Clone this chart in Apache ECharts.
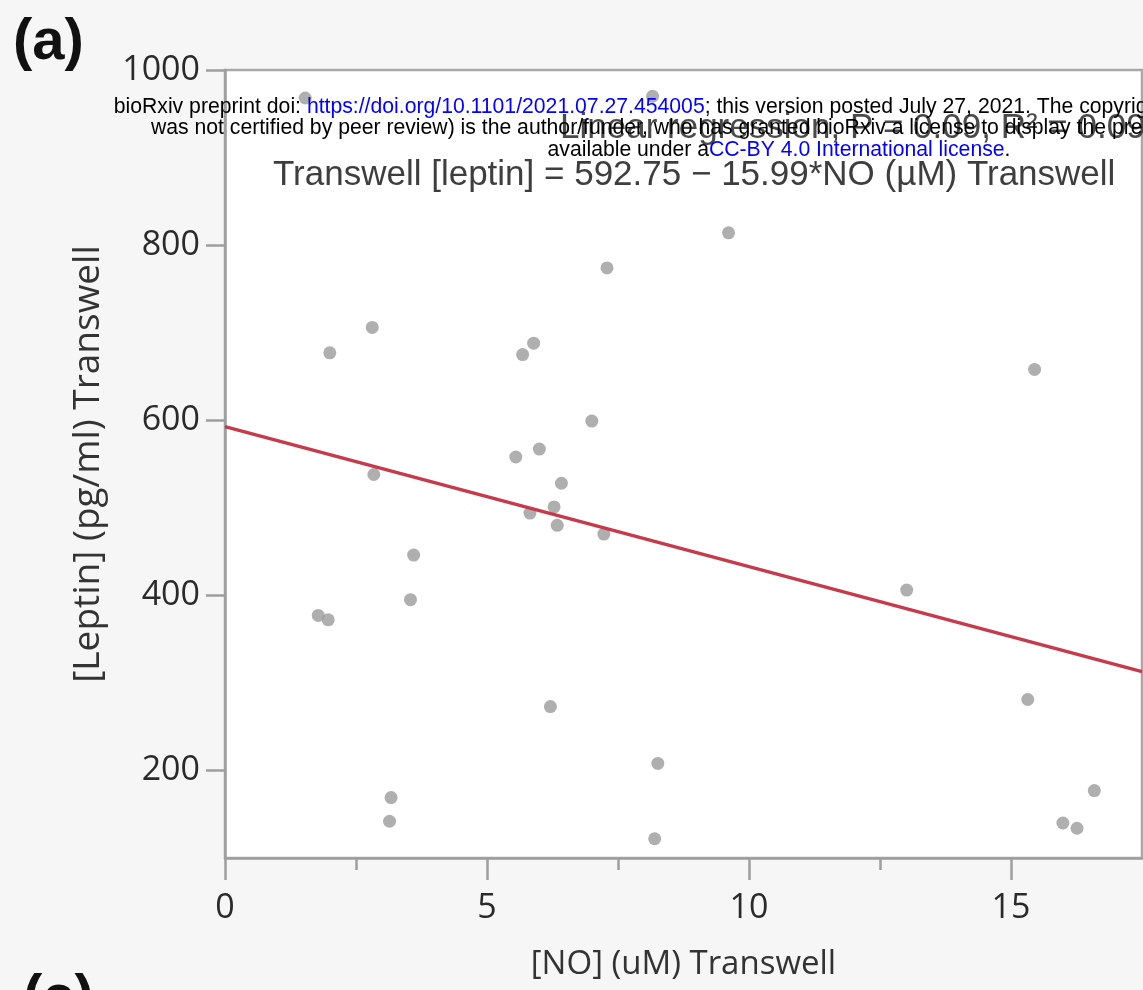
<!DOCTYPE html>
<html>
<head>
<meta charset="utf-8">
<script src="https://cdn.jsdelivr.net/npm/echarts@6/dist/echarts.min.js"></script>
<style>
  html, body { margin: 0; padding: 0; background: #f6f6f6; }
  #chart { width: 1143px; height: 990px; }
</style>
</head>
<body>
<div id="chart"></div>
<script>
// ---- Data ----
const noValues = [1.53, 8.16, 9.61, 7.29, 5.89, 5.68, 7.00, 6.00, 5.55, 6.42, 5.82, 6.28, 6.34, 7.23,
  3.60, 3.54, 2.00, 2.81, 2.84, 1.78, 1.97, 6.21, 3.17, 3.14, 8.26, 8.20, 15.45, 13.01, 15.32, 16.59, 15.99, 16.26];
const leptinValues = [968, 970, 814, 774, 688, 675, 599, 567, 558, 528, 494, 501, 480, 470,
  446, 395, 677, 706, 538, 377, 372, 273, 169, 142, 208, 122, 658, 406, 281, 177, 140, 134];
const fitX = [0, 17.5];
const fitY = [592.75, 312.9];
const xTickValues = [0, 5, 10, 15];
const xMinorTickValues = [2.5, 7.5, 12.5];
const yTickValues = [200, 400, 600, 800, 1000];

const titleLine1 = 'Linear regression, P = 0.09, R\u00b2 = 0.09';
const titleLine2 = 'Transwell [leptin] = 592.75 \u2212 15.99*NO (\u00b5M) Transwell';
const xName = '[NO] (uM) Transwell';
const yName = '[Leptin] (pg/ml) Transwell';

const wm1a = 'bioRxiv preprint doi: ';
const wm1b = 'https://doi.org/10.1101/2021.07.27.454005';
const wm1c = '; this version posted July 27, 2021. The copyright holder for this preprint (which';
const wm2 = 'was not certified by peer review) is the author/funder, who has granted bioRxiv a license to display the preprint in perpetuity. It is made';
const wm3a = 'available under a';
const wm3b = 'CC-BY 4.0 International license';
const wm3c = '.';

// ---- Build chart ----
const scatterData = noValues.map((v, i) => [v, leptinValues[i]]);
const fitData = fitX.map((v, i) => [v, fitY[i]]);

const axisGray = '#9e9e9e';
const labelFont = '"Open Sans", "Noto Sans", sans-serif';
const wmFont = '21.2px "Liberation Sans", Arial, sans-serif';
const wmRich = {
  k: { font: wmFont, fill: '#000000' },
  b: { font: wmFont, fill: '#0000ff' }
};
const wmX = 779;

const chart = echarts.init(document.getElementById('chart'), null, { renderer: 'canvas' });
chart.setOption({
  animation: false,
  backgroundColor: '#f6f6f6',
  title: [
    {
      text: titleLine1, left: 555, top: 106,
      textStyle: { fontFamily: '"Liberation Sans", Arial, sans-serif', fontSize: 35, fontWeight: 'normal', color: '#4a4a4a' }
    },
    {
      text: titleLine2, left: 268, top: 153,
      textStyle: { fontFamily: '"Liberation Sans", Arial, sans-serif', fontSize: 35, fontWeight: 'normal', color: '#3e3e3e' }
    }
  ],
  grid: {
    left: 225, top: 70, right: 1, bottom: 132,
    show: true, backgroundColor: '#ffffff', borderColor: '#a8a8a8', borderWidth: 2.5
  },
  xAxis: [
    {
      type: 'value', min: 0, max: 17.5, position: 'bottom',
      axisLine: { show: true, lineStyle: { color: axisGray, width: 2.5 } },
      axisTick: { show: true, customValues: xTickValues, length: 22, lineStyle: { color: axisGray, width: 2.5 } },
      axisLabel: { customValues: xTickValues, margin: 33, fontSize: 34, fontFamily: labelFont, color: '#2a2a2a',
        formatter: v => String(v) },
      splitLine: { show: false },
      name: xName, nameLocation: 'middle', nameGap: 90,
      nameTextStyle: { fontSize: 33, fontFamily: labelFont, color: '#333333' }
    },
    {
      type: 'value', min: 0, max: 17.5, position: 'bottom', gridIndex: 0,
      axisLine: { show: false },
      axisTick: { show: true, customValues: xMinorTickValues, length: 12, lineStyle: { color: axisGray, width: 2.5 } },
      axisLabel: { show: false },
      splitLine: { show: false }
    }
  ],
  yAxis: {
    type: 'value', min: 100, max: 1000,
    axisLine: { show: true, lineStyle: { color: axisGray, width: 2.5 } },
    axisTick: { show: true, customValues: yTickValues, length: 19, lineStyle: { color: axisGray, width: 2.5 } },
    axisLabel: { customValues: yTickValues, margin: 25, fontSize: 34, fontFamily: labelFont, color: '#2a2a2a',
      formatter: v => String(v) },
    splitLine: { show: false },
    name: yName, nameLocation: 'middle', nameGap: 118,
    nameTextStyle: { fontSize: 37, fontFamily: labelFont, color: '#333333' }
  },
  series: [
    {
      type: 'scatter', xAxisIndex: 0, yAxisIndex: 0,
      data: scatterData, symbol: 'circle', symbolSize: 13,
      itemStyle: { color: '#9b9b9b' }, z: 2
    },
    {
      type: 'line', xAxisIndex: 0, yAxisIndex: 0,
      data: fitData, symbol: 'none',
      lineStyle: { color: '#c63a4b', width: 3.5 }, z: 3
    }
  ],
  graphic: [
    {
      type: 'text', left: 13, top: 14, z: 50,
      style: { text: '(a)', font: 'bold 58px "Liberation Sans", Arial, sans-serif', fill: '#111111' }
    },
    {
      type: 'text', left: 23, top: 970, z: 50,
      style: { text: '(c)', font: 'bold 58px "Liberation Sans", Arial, sans-serif', fill: '#111111' }
    },
    {
      type: 'text', z: 100,
      style: {
        x: wmX, y: 107, text: '{k|' + wm1a + '}{b|' + wm1b + '}{k|' + wm1c + '}',
        rich: wmRich, font: wmFont, align: 'center', verticalAlign: 'middle',
        textAlign: 'center', textVerticalAlign: 'middle'
      }
    },
    {
      type: 'text', z: 100,
      style: {
        x: wmX, y: 128.5, text: '{k|' + wm2 + '}',
        rich: wmRich, font: wmFont, align: 'center', verticalAlign: 'middle',
        textAlign: 'center', textVerticalAlign: 'middle'
      }
    },
    {
      type: 'text', z: 100,
      style: {
        x: wmX, y: 150, text: '{k|' + wm3a + '}{b|' + wm3b + '}{k|' + wm3c + '}',
        rich: wmRich, font: wmFont, align: 'center', verticalAlign: 'middle',
        textAlign: 'center', textVerticalAlign: 'middle'
      }
    }
  ]
});
</script>
</body>
</html>
